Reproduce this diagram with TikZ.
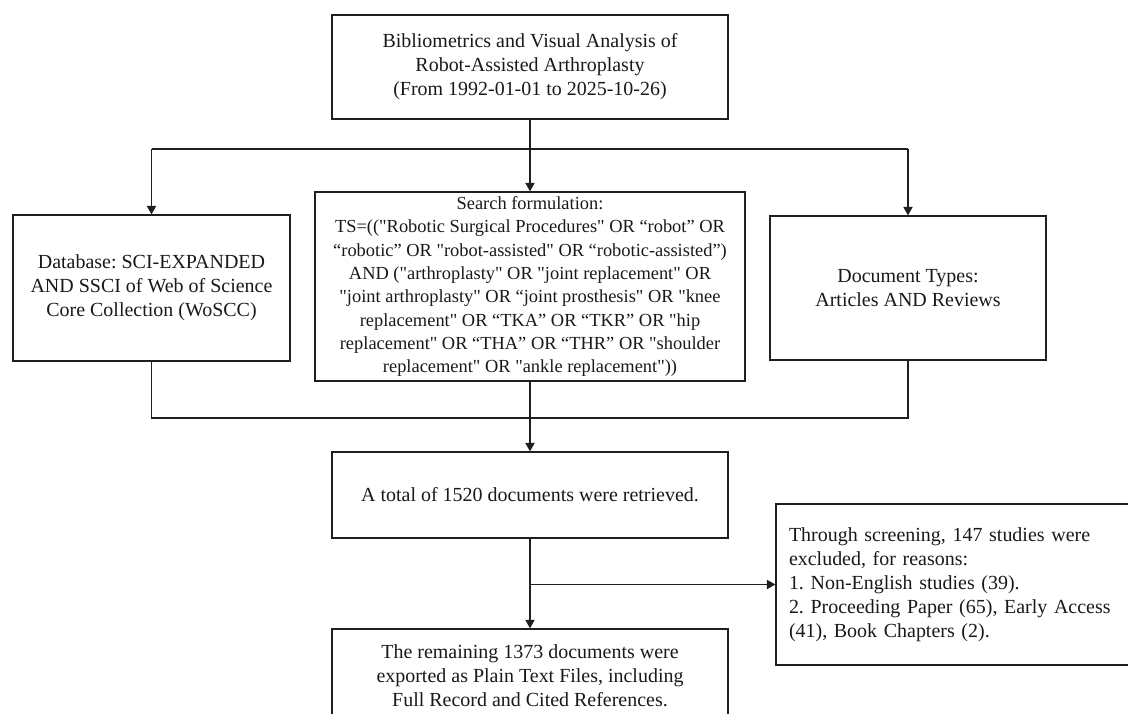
\documentclass[tikz,border=0pt]{standalone}
\usepackage{fontspec}
\setmainfont{Liberation Serif}[Ligatures=TeXOff]
\usetikzlibrary{arrows.meta,calc}
\frenchspacing
\begin{document}
\begin{tikzpicture}[x=0.025cm,y=-0.025cm,
  box/.style={draw=black!88, line width=0.9pt, align=center, inner sep=0pt,
    font=\fontsize{14.2}{17.1}\selectfont, text=black!90},
  wh/.style 2 args={minimum width=#1*0.025cm, minimum height=#2*0.025cm},
  arr/.style={draw=black!88, line width=0.9pt, -{Triangle[width=6.5pt,length=6pt]}},
  ln/.style={draw=black!88, line width=0.9pt}]
\clip (0,0) rectangle (1128,714);
\useasboundingbox (0,0) rectangle (1128,714);

\node[box, wh={396}{104}] (top) at (530,67)
  {Bibliometrics and Visual Analysis of\\Robot-Assisted Arthroplasty\\(From 1992-01-01 to 2025-10-26)};
\node[box, wh={277}{146}] (left) at (151.5,288)
  {Database: SCI-EXPANDED\\AND SSCI of Web of Science\\Core Collection (WoSCC)};
\node[box, wh={430}{189}, font=\fontsize{13.1}{16.6}\selectfont] (mid) at (530,286.5)
  {Search formulation:\\
   TS=(("Robotic Surgical Procedures" OR “robot” OR\\
   “robotic” OR "robot-assisted" OR “robotic-assisted”)\\
   AND ("arthroplasty" OR "joint replacement" OR\\
   "joint arthroplasty" OR “joint prosthesis" OR "knee\\
   replacement" OR “TKA” OR “TKR” OR "hip\\
   replacement" OR “THA” OR “THR” OR "shoulder\\
   replacement" OR "ankle replacement"))};
\node[box, wh={276}{144}] (right) at (908,288)
  {Document Types:\\Articles AND Reviews};
\node[box, wh={396}{86}] (total) at (530,495)
  {A total of 1520 documents were retrieved.};
\node[box, wh={396}{94}] (remain) at (530,676)
  {The remaining 1373 documents were\\exported as Plain Text Files, including\\Full Record and Cited References.};
\node[box, align=left, text width=338*0.025cm, inner xsep=13*0.025cm, minimum height=161*0.025cm] (excl) at (958,584.5)
  {Through screening, 147 studies were\\excluded, for reasons:\\1. Non-English studies (39).\\2. Proceeding Paper (65), Early Access\\(41), Book Chapters (2).};

\coordinate (j1) at (530,149);
\coordinate (j2) at (530,418);
\draw[ln] (top.south) -- (j1);
\draw[ln] (left.north |- j1) -- (right.north |- j1);
\draw[arr] (left.north |- j1) -- (left.north);
\draw[arr] (j1) -- (mid.north);
\draw[arr] (right.north |- j1) -- (right.north);
\draw[ln] (left.south) -- (left.south |- j2) -- (right.south |- j2) -- (right.south);
\draw[arr] (mid.south) -- (total.north);
\draw[arr] (total.south) -- (remain.north);
\draw[arr] (total.south |- excl.west) -- (excl.west);
\end{tikzpicture}
\end{document}
